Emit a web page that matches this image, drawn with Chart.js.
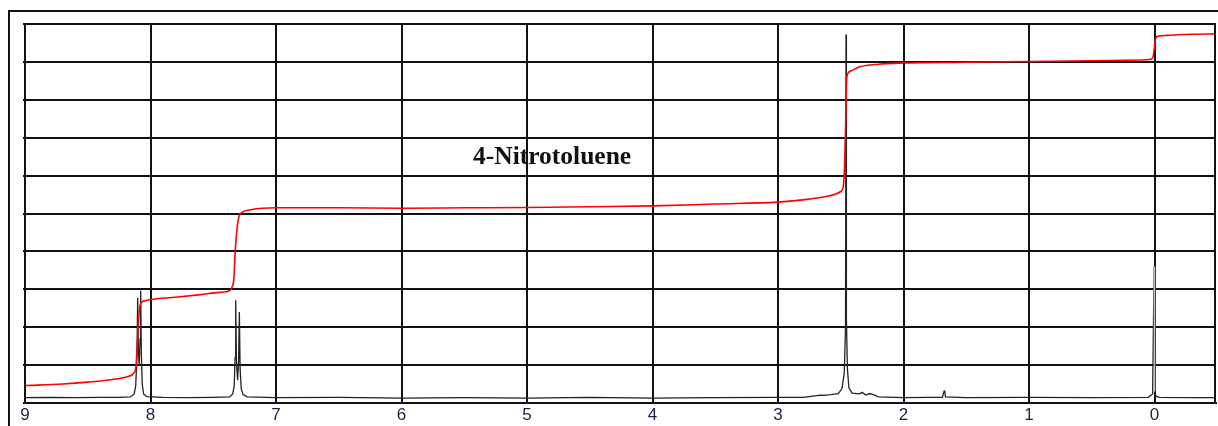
<!DOCTYPE html>
<html>
<head>
<meta charset="utf-8">
<script src="https://cdn.jsdelivr.net/npm/chart.js@4.4.1/dist/chart.umd.min.js"></script>
<style>
  html, body { margin: 0; padding: 0; background: #fff; overflow: hidden; }
  canvas { display: block; }
</style>
</head>
<body>
<canvas id="nmr" width="1218" height="426"></canvas>
<script>
// 1H NMR spectrum of 4-nitrotoluene, chemical shift in ppm (axis runs high to low)
const compoundName = '4-Nitrotoluene';
const shiftMin = -0.49;
const shiftMax = 9;

// spectrum trace: shift (ppm) and relative intensity (% of plot height)
const spectrumShift = [
  9.00, 8.80, 8.60, 8.40, 8.25, 8.16, 8.13, 8.118, 8.108, 8.102, 8.097, 8.090, 8.083, 8.078, 8.073, 8.066, 8.055, 8.03,
  7.90, 7.70, 7.50, 7.37, 7.345, 7.333, 7.326, 7.321, 7.315, 7.306, 7.298, 7.292, 7.286, 7.277, 7.262, 7.23,
  7.00, 6.50, 6.00, 5.50, 5.00, 4.50, 4.00, 3.50, 3.00, 2.80, 2.66, 2.63, 2.58, 2.52, 2.49, 2.472, 2.462, 2.458,
  2.455, 2.447, 2.435, 2.41, 2.35, 2.33, 2.30, 2.27, 2.24, 2.20, 2.00, 1.80, 1.69, 1.676, 1.672, 1.666, 1.50,
  1.00, 0.50, 0.05, 0.015, 0.003, -0.001, -0.012, -0.04, -0.30, -0.49
];
const spectrumIntensity = [
  1.4, 1.5, 1.4, 1.5, 1.5, 1.6, 2.4, 4.5, 12, 27.8, 14, 10, 17, 29.6, 13, 5, 2.4, 1.7,
  1.5, 1.4, 1.5, 1.6, 2.4, 4.5, 12, 27.1, 11, 6, 11, 24.0, 9, 3.8, 2.2, 1.6,
  1.4, 1.5, 1.3, 1.4, 1.3, 1.5, 1.3, 1.4, 1.5, 1.5, 2.1, 2.0, 2.2, 2.5, 3.8, 8, 20, 97.2,
  22, 9, 4, 2.6, 2.4, 2.8, 2.1, 2.5, 2.2, 1.6, 1.4, 1.5, 1.5, 3.2, 3.3, 1.6, 1.4,
  1.5, 1.4, 1.5, 2.4, 36, 3, 1.8, 1.5, 1.4, 1.4
];

// integral trace: shift (ppm) and running integral (% of plot height)
const integralShift = [
  9.00, 8.70, 8.50, 8.30, 8.18, 8.13, 8.115, 8.105, 8.095, 8.085, 8.07, 8.04, 8.00, 7.80, 7.60, 7.45, 7.37,
  7.35, 7.335, 7.325, 7.31, 7.295, 7.27, 7.20, 7.00, 6.50, 6.00, 5.50, 5.00, 4.50, 4.00, 3.50, 3.00, 2.80,
  2.65, 2.55, 2.50, 2.48, 2.47, 2.46, 2.455, 2.45, 2.42, 2.35, 2.20, 2.00, 1.50, 1.00, 0.50, 0.10, 0.03,
  0.01, 0.00, -0.01, -0.03, -0.10, -0.30, -0.49
];
const integralValue = [
  4.6, 5.0, 5.5, 6.2, 7.0, 8.0, 10, 16, 22, 25.5, 26.6, 27.0, 27.3, 27.9, 28.6, 29.2, 29.6,
  30.6, 33, 40, 46, 49.2, 50.3, 51.0, 51.5, 51.5, 51.4, 51.5, 51.6, 51.8, 52.0, 52.5, 53.0, 53.6,
  54.3, 55.0, 55.8, 57, 62, 75, 84, 86.3, 87.6, 88.7, 89.4, 89.7, 89.9, 90.1, 90.3, 90.5, 90.7,
  91.5, 94, 96.2, 96.8, 97.0, 97.3, 97.4
];

const toPoints = (xs, ys) => xs.map((x, i) => ({ x: x, y: ys[i] }));

// outer frame, right plot edge and the compound label
const framePlugin = {
  id: 'frame',
  beforeDraw(chart) {
    const ctx = chart.ctx;
    ctx.save();
    ctx.fillStyle = '#ffffff';
    ctx.fillRect(0, 0, chart.width, chart.height);
    ctx.restore();
  },
  afterDatasetsDraw(chart) {
    const { ctx, chartArea: a, scales } = chart;
    ctx.save();
    ctx.strokeStyle = '#111';
    ctx.lineWidth = 2;
    ctx.beginPath();
    ctx.moveTo(9, chart.height);
    ctx.lineTo(9, 11);
    ctx.lineTo(chart.width, 11);
    ctx.stroke();

    ctx.lineWidth = 2;
    ctx.strokeStyle = '#111';
    ctx.beginPath();
    ctx.moveTo(a.right - 1, a.top);
    ctx.lineTo(a.right - 1, a.bottom);
    ctx.stroke();

    ctx.font = 'bold 25.5px "Liberation Serif", "Times New Roman", serif';
    ctx.fillStyle = '#111';
    ctx.textAlign = 'center';
    ctx.textBaseline = 'alphabetic';
    ctx.fillText(compoundName, scales.x.getPixelForValue(4.8), scales.y.getPixelForValue(63.0));
    ctx.restore();
  }
};

new Chart(document.getElementById('nmr'), {
  type: 'scatter',
  data: {
    datasets: [
      {
        label: 'Integral',
        data: toPoints(integralShift, integralValue),
        showLine: true,
        borderColor: '#ff0000',
        borderWidth: 1.6,
        pointRadius: 0,
        cubicInterpolationMode: 'monotone',
        order: 0
      },
      {
        label: 'Spectrum',
        data: toPoints(spectrumShift, spectrumIntensity),
        showLine: true,
        borderColor: '#222',
        borderWidth: 1.3,
        pointRadius: 0,
        tension: 0,
        order: 1,
        segment: {
          borderColor: (c) => {
            const hi = Math.max(c.p0.parsed.y, c.p1.parsed.y);
            const nearZero = Math.abs(c.p0.parsed.x) < 0.01 && Math.abs(c.p1.parsed.x) < 0.01;
            return (nearZero && hi > 10) ? '#c4c4c4' : undefined;
          }
        }
      }
    ]
  },
  options: {
    responsive: false,
    animation: false,
    devicePixelRatio: 1,
    layout: { padding: { left: 25, top: 24, right: 2, bottom: 0 } },
    plugins: { legend: { display: false }, tooltip: { enabled: false } },
    scales: {
      x: {
        type: 'linear',
        reverse: true,
        min: shiftMin,
        max: shiftMax,
        afterFit: (s) => { s.height = 23; },
        border: { display: true, color: '#111', width: 2 },
        grid: { color: '#111', lineWidth: 2, drawTicks: false },
        ticks: {
          stepSize: 1,
          includeBounds: false,
          padding: 2,
          color: '#1c2340',
          font: { family: '"Liberation Sans Narrow", "Liberation Sans", Arial, sans-serif', size: 17 },
          callback: (v) => String(v)
        }
      },
      y: {
        type: 'linear',
        min: 0,
        max: 100,
        afterFit: (s) => { s.width = 0; },
        border: { display: true, color: '#111', width: 2 },
        grid: { color: '#111', lineWidth: 2, drawTicks: true, tickLength: 2 },
        ticks: { display: false, stepSize: 10 }
      }
    }
  },
  plugins: [framePlugin]
});
</script>
</body>
</html>
